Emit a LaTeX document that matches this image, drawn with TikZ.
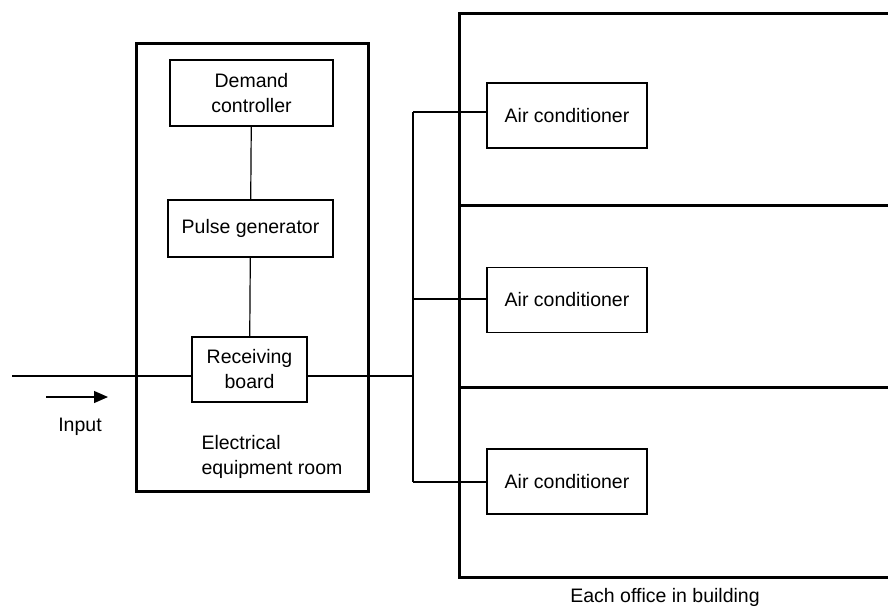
\documentclass[tikz,border=0pt]{standalone}
\usepackage{fontspec}
\setmainfont{Liberation Sans}
\usetikzlibrary{arrows.meta}
\begin{document}
\begin{tikzpicture}[x=1pt,y=-1pt,
  box/.style={draw,line width=1.2pt,align=center,inner sep=0pt},
  room/.style={draw,line width=3pt},
  wire/.style={line width=1.2pt},
  every node/.style={font=\fontsize{19.5}{25}\selectfont}]
\useasboundingbox (0,0) rectangle (888,608);
% rooms
\draw[room] (136,43) rectangle (368,491);
\draw[room] (905,13) -- (459,13) -- (459,577) -- (905,577);
\draw[room] (459,205) -- (905,205);
\draw[room] (459,387) -- (905,387);
% boxes
\node[box,minimum width=163,minimum height=66] (dc) at (251.5,93) {Demand\\controller};
\node[box,minimum width=165,minimum height=57] (pg) at (250.5,228.5) {Pulse generator};
\node[box,minimum width=115,minimum height=65] (rb) at (249.5,369.5) {Receiving\\board};
\node[box,minimum width=160,minimum height=65] (ac1) at (567,115.5) {Air conditioner};
\node[box,minimum width=160,minimum height=65] (ac2) at (567,300) {Air conditioner};
\node[box,minimum width=160,minimum height=65] (ac3) at (567,481.5) {Air conditioner};
% wires
\coordinate (in) at (12,376);
\coordinate (bus) at (413,376);
\coordinate (b1) at (413,112);
\coordinate (b3) at (413,482);
\draw[wire] (dc) -- (pg);
\draw[wire] (pg) -- (rb);
\draw[wire] (in) -- (in -| rb.west);
\draw[wire] (rb.east |- bus) -- (bus);
\draw[wire] (b1) -- (b3);
\draw[wire] (b1) -- (b1 -| ac1.west);
\draw[wire] (413,299) -- (ac2.west |- 0,299);
\draw[wire] (b3) -- (b3 -| ac3.west);
% input arrow
\coordinate (a0) at (46,397);
\coordinate (a1) at (108,397);
\draw[wire,-{Triangle[length=14pt,width=12pt]}] (a0) -- (a1);
\node (input) at (80,427) {Input};
\node[align=left,anchor=west] (er) at (198,457) {Electrical\\equipment room};
\node (each) at (665,597) {Each office in building};
\end{tikzpicture}
\end{document}
